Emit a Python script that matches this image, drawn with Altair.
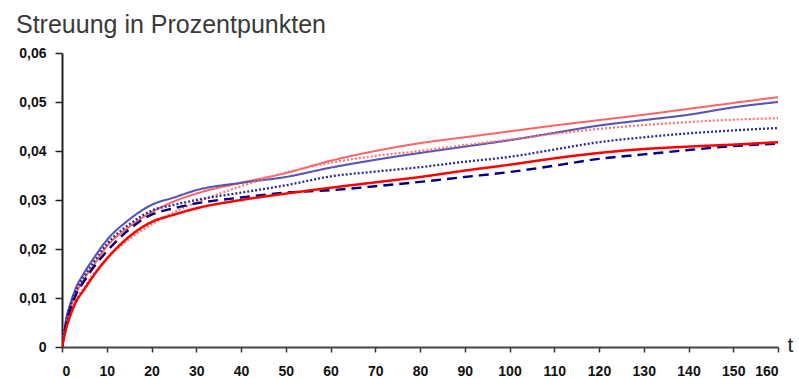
import altair as alt
import pandas as pd

# time axis sample points
t = [0, 1, 2, 3, 5, 7, 10, 15, 20, 25, 30, 40, 50, 60, 70, 80, 90, 100, 110, 120, 130, 140, 150, 160]

# dispersion series (share points)
s_red_upper = [0, 0.0050, 0.0082, 0.0106, 0.0140, 0.0166, 0.0205, 0.0245, 0.0275, 0.0297, 0.0313, 0.0335,
               0.0355, 0.0380, 0.0400, 0.0416, 0.0428, 0.0440, 0.0452, 0.0463, 0.0474, 0.0486, 0.0498, 0.0510]
s_blue_upper = [0, 0.0060, 0.0092, 0.0118, 0.0152, 0.0180, 0.0218, 0.0260, 0.0290, 0.0305, 0.0320, 0.0335,
                0.0347, 0.0366, 0.0382, 0.0396, 0.0409, 0.0422, 0.0437, 0.0452, 0.0463, 0.0474, 0.0489, 0.0500]
s_red_dotted = [0, 0.0040, 0.0068, 0.0092, 0.0122, 0.0148, 0.0180, 0.0220, 0.0250, 0.0275, 0.0295, 0.0328,
                0.0356, 0.0376, 0.0390, 0.0400, 0.0412, 0.0423, 0.0435, 0.0445, 0.0453, 0.0459, 0.0464, 0.0467]
s_blue_dotted = [0, 0.0055, 0.0088, 0.0113, 0.0145, 0.0172, 0.0210, 0.0250, 0.0278, 0.0290, 0.0300, 0.0315,
                 0.0330, 0.0348, 0.0358, 0.0367, 0.0378, 0.0388, 0.0403, 0.0418, 0.0428, 0.0436, 0.0442, 0.0447]
s_navy_dashed = [0, 0.0050, 0.0080, 0.0104, 0.0135, 0.0162, 0.0195, 0.0240, 0.0270, 0.0283, 0.0293, 0.0305,
                 0.0315, 0.0320, 0.0328, 0.0337, 0.0347, 0.0357, 0.0370, 0.0384, 0.0393, 0.0402, 0.0410, 0.0415]
s_red_thick = [0, 0.0040, 0.0068, 0.0090, 0.0118, 0.0145, 0.0180, 0.0225, 0.0255, 0.0270, 0.0283, 0.0300,
               0.0313, 0.0325, 0.0336, 0.0347, 0.0360, 0.0372, 0.0385, 0.0396, 0.0404, 0.0409, 0.0413, 0.0418]

series = {
    "A": s_red_upper,
    "B": s_blue_upper,
    "C": s_red_dotted,
    "D": s_blue_dotted,
    "F": s_navy_dashed,
    "E": s_red_thick,
}
names = list(series.keys())
colors = ["#ff6464", "#5656b4", "#ff7373", "#2a2a9c", "#000080", "#ff0000"]
widths = [2, 2.5, 2.5, 2.5, 3.5, 5]
dashes = [[1, 0], [1, 0], [2, 2], [2, 2], [10, 6], [1, 0]]

rows = []
for order, (name, vals) in enumerate(series.items()):
    for ti, v in zip(t, vals):
        rows.append({"t": ti, "v": v, "s": name, "o": order})
df = pd.DataFrame(rows)

x_ticks = list(range(0, 161, 10))
y_ticks = [0, 0.01, 0.02, 0.03, 0.04, 0.05, 0.06]

lines = alt.Chart(df).mark_line(interpolate="monotone", clip=True).encode(
    x=alt.X("t:Q", scale=alt.Scale(domain=[0, 160], nice=False),
            axis=alt.Axis(values=x_ticks, title="t", format="d", grid=False,
                          titleX=728, titleY=8, titleAlign="center", titleBaseline="bottom",
                          titleFontSize=21, titleFontWeight="normal", titleColor="#222",
                          labelFontSize=14, labelFontWeight="bold", labelColor="#111",
                          labelPadding=12, tickSize=5, tickColor="#333", tickWidth=1.5,
                          domainColor="#444", domainWidth=2)),
    y=alt.Y("v:Q", scale=alt.Scale(domain=[0, 0.06], nice=False),
            axis=alt.Axis(values=y_ticks, title=None, grid=False,
                          labelExpr="datum.value == 0 ? '0' : replace(format(datum.value, '.2f'), '.', ',')",
                          labelFontSize=14, labelFontWeight="bold", labelColor="#111",
                          labelPadding=9, tickSize=7, tickColor="#222", tickWidth=1.5,
                          domainColor="#222", domainWidth=2)),
    color=alt.Color("s:N", scale=alt.Scale(domain=names, range=colors), legend=None),
    strokeWidth=alt.StrokeWidth("s:N", scale=alt.Scale(domain=names, range=widths), legend=None),
    strokeDash=alt.StrokeDash("s:N", scale=alt.Scale(domain=names, range=dashes), legend=None),
    order=alt.Order("o:Q"),
)

title = alt.Chart(pd.DataFrame({"txt": ["Streuung in Prozentpunkten"]})).mark_text(
    align="left", baseline="alphabetic", font="Liberation Sans", fontSize=25, color="#3a3a3a"
).encode(x=alt.value(-46), y=alt.value(-20), text="txt:N")

chart = alt.layer(lines, title).properties(
    width=716, height=294,
    autosize=alt.AutoSizeParams(type="none"),
    padding={"left": 62, "top": 53, "right": 21, "bottom": 31},
).configure_view(stroke=None).configure_axis(labelFont="Liberation Sans", titleFont="Liberation Sans")

chart.save("out.html", embed_options={"renderer": "svg", "actions": False})
